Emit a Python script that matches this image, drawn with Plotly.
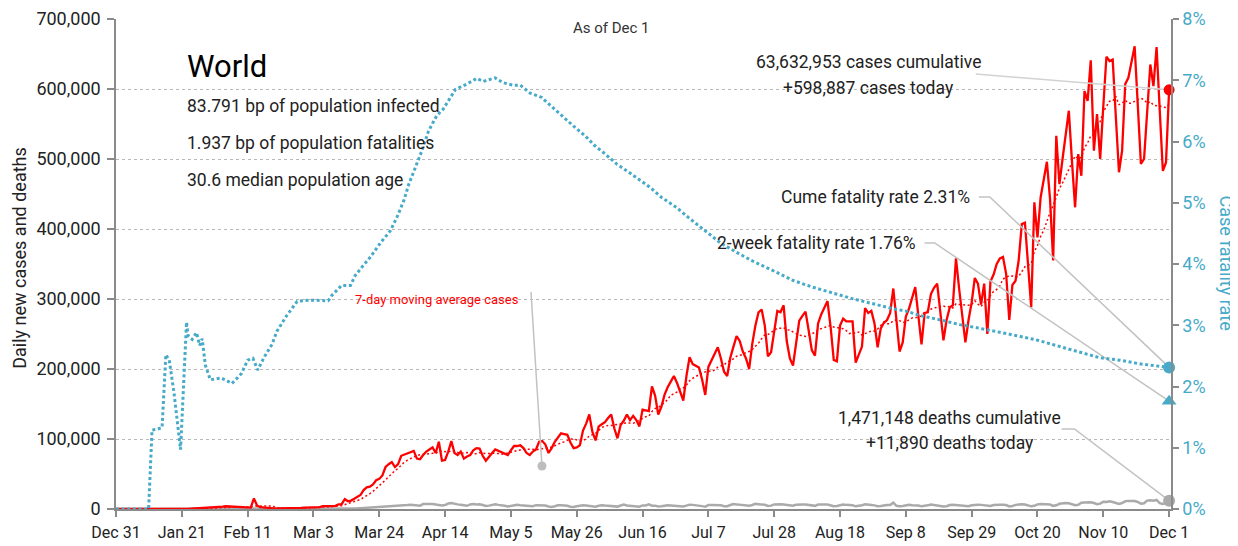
import pandas as pd
import plotly.graph_objects as go

START = pd.Timestamp("2019-12-31")

# ---------------- data ----------------
daily_cases = [
    27, 0, 0, 0, 17, 0, 15,
    0, 0, 0, 0, 0, 0, 1,
    0, 0, 0, 4, 17, 136, 150,
    150, 97, 265, 468, 703, 786, 1778,
    1482, 1755, 2010, 2127, 2603, 2836, 3239,
    3915, 3721, 3160, 3418, 2607, 3004, 2550,
    2064, 1907, 15152, 5090, 2658, 2109, 2052,
    1878, 507, 580, 1013, 1005, 630, 500,
    950, 1050, 1300, 1450, 1900, 2000, 1850,
    2400, 2300, 2700, 4000, 3900, 3600, 4000,
    4500, 6500, 7000, 14000, 11000, 12000, 14500,
    17000, 20000, 27000, 31000, 32000, 35000, 41000,
    43000, 48000, 60000, 64000, 67000, 60000, 64000,
    76000, 78000, 80000, 82000, 83000, 72000, 71000,
    77000, 82000, 85000, 88000, 80000, 96000, 69000,
    70000, 82000, 97000, 80000, 77000, 82000, 72000,
    75000, 77000, 84000, 87000, 86500, 76000, 69000,
    75000, 80000, 85000, 83000, 80000, 79000, 77000,
    84000, 90000, 90000, 91000, 87000, 80000, 77000,
    82000, 85000, 96000, 97000, 92000, 80000, 87000,
    96000, 102000, 108000, 107000, 106000, 95000, 87000,
    88000, 91000, 112000, 122000, 135000, 110000, 98000,
    118000, 121000, 124000, 130000, 135000, 115000, 101000,
    120000, 126000, 135000, 127000, 133000, 127000, 118000,
    142000, 141000, 140000, 175000, 162000, 135000, 146000,
    163000, 174000, 182000, 190000, 180000, 168000, 155000,
    190000, 217000, 207000, 204000, 202000, 185000, 163000,
    203000, 212000, 222000, 231000, 215000, 196000, 190000,
    216000, 232000, 247000, 240000, 225000, 215000, 200000,
    236000, 262000, 281000, 285000, 262000, 218000, 224000,
    255000, 283000, 281000, 291000, 240000, 215000, 205000,
    238000, 269000, 276000, 282000, 255000, 227000, 219000,
    265000, 278000, 288000, 297000, 260000, 213000, 211000,
    262000, 272000, 268000, 268000, 268000, 209000, 222000,
    232000, 287000, 280000, 283000, 265000, 231000, 258000,
    266000, 270000, 280000, 315000, 270000, 225000, 238000,
    275000, 286000, 302000, 317000, 276000, 235000, 280000,
    281000, 307000, 316000, 322000, 282000, 241000, 270000,
    288000, 291000, 358000, 315000, 278000, 238000, 270000,
    295000, 330000, 322000, 292000, 322000, 250000, 325000,
    335000, 350000, 358000, 360000, 336000, 270000, 320000,
    326000, 355000, 407000, 409000, 350000, 288000, 438000,
    388000, 445000, 470000, 496000, 443000, 355000, 533000,
    464000, 500000, 536000, 569000, 497000, 431000, 507000,
    476000, 597000, 583000, 641000, 512000, 564000, 500000,
    575000, 646000, 640000, 642000, 560000, 481000, 512000,
    607000, 616000, 640000, 661000, 577000, 493000, 500000,
    568000, 635000, 604000, 660000, 570000, 483000, 495000,
    598887,
]

daily_deaths = [
    0, 0, 0, 0, 0, 0, 0,
    0, 0, 0, 0, 1, 0, 0,
    0, 0, 1, 0, 0, 1, 0,
    3, 8, 8, 16, 15, 24, 26,
    26, 38, 43, 46, 45, 57, 64,
    66, 73, 73, 86, 89, 97, 108,
    97, 254, 121, 143, 142, 106, 98,
    136, 115, 118, 109, 97, 150, 71,
    52, 29, 44, 47, 35, 58, 67,
    72, 84, 81, 100, 105, 227, 208,
    273, 327, 361, 430, 450, 627, 770,
    940, 1080, 1350, 1650, 1700, 1900, 2200,
    2500, 2850, 3100, 3600, 3400, 3600, 3800,
    4400, 5000, 5600, 6200, 5900, 5000, 4800,
    7000, 6700, 7200, 7200, 6500, 5800, 5100,
    5600, 7800, 8400, 7200, 6600, 6200, 5000,
    4600, 6500, 7200, 6600, 6700, 5700, 4200,
    4800, 6200, 6800, 5900, 5500, 4500, 3600,
    4300, 5900, 6000, 5500, 5200, 4300, 3700,
    4100, 5500, 5400, 5300, 4900, 3500, 3000,
    3900, 5300, 5400, 5100, 4600, 3300, 2900,
    3800, 5000, 5200, 4900, 4400, 3100, 3300,
    4700, 5400, 4900, 4600, 4100, 3400, 3400,
    5000, 6400, 5000, 4600, 4300, 3700, 3300,
    5100, 5100, 6600, 4800, 4800, 3700, 3800,
    5100, 5400, 5000, 4600, 4600, 3500, 3500,
    4900, 6200, 5900, 5600, 5400, 4100, 3400,
    5600, 5800, 5900, 5700, 5200, 4000, 4100,
    5700, 7000, 6600, 6100, 5600, 4200, 4500,
    5800, 7300, 6900, 6700, 6000, 4300, 4800,
    6600, 7100, 6900, 6300, 5800, 4300, 4600,
    6200, 6800, 6600, 6400, 5700, 4200, 4500,
    6300, 6900, 6600, 6300, 5400, 4000, 4200,
    5700, 6400, 5900, 6000, 5200, 3800, 4200,
    5400, 6800, 5900, 5700, 5200, 4000, 4200,
    5300, 5800, 5800, 9000, 4600, 3800, 4200,
    5100, 6200, 5400, 5700, 5000, 3800, 4100,
    5200, 6500, 5700, 5600, 5100, 3600, 3900,
    5700, 6100, 5600, 5600, 4400, 3700, 4100,
    5400, 6300, 6200, 5900, 5300, 3900, 4200,
    5700, 6300, 6000, 5900, 5600, 3700, 4200,
    5900, 6500, 6700, 6400, 5600, 3800, 4600,
    6600, 7200, 7000, 7000, 6300, 4500, 5200,
    7400, 8400, 8400, 8300, 7000, 5300, 6100,
    8900, 9400, 9600, 9500, 8500, 6800, 7600,
    10300, 10000, 11000, 10000, 8800, 7200, 8600,
    11000, 11600, 11600, 11500, 10000, 7700, 8300,
    12000, 12600, 11700, 12900, 8300, 7300, 8400,
    11890,
]

# case fatality rate (cumulative), sampled from the dotted line: day offset, percent
cfr_day = [0, 10.4, 11.5, 13.0, 14.7, 15.9, 17.0, 18.5, 20.6, 22.5, 23.0, 24.3, 25.7,
           26.7, 27.5, 28.5, 30.1, 33.6, 37.0, 40.0, 42.0, 43.7, 45.2, 47.3, 49.8,
           51.3, 54.5, 57.8, 62.0, 67.7, 68.9, 70.5, 72.0, 74.8, 76.3, 78.0, 81.1,
           84.3, 87.5, 89.6, 91.8, 93.4, 95.5, 97.6, 99.7, 102.3, 104.4, 106.6,
           108.3, 112.0, 115.1, 117.2, 120.9, 123.5, 126.7, 129.0, 132.1, 135.8,
           139.5, 142.7, 146.0, 149.7, 152.8, 156.0, 159.8, 163.0, 166.7, 170.4,
           174.0, 178.9, 182.6, 187.3, 192.7, 198.0, 203.0, 209.7, 216.1, 222.4,
           228.8, 235.2, 241.6, 247.9, 252.2, 256.4, 262.8, 269.2, 275.6, 281.9,
           288.3, 293.7, 300.0, 306.5, 313.8, 320.2, 326.6, 333.0, 336.0]
cfr_pct = [0.00, 0.00, 1.29, 1.30, 1.33, 2.52, 2.43, 1.90, 0.97, 3.05, 2.83, 2.77, 2.88,
           2.67, 2.78, 2.35, 2.11, 2.14, 2.05, 2.21, 2.43, 2.46, 2.27, 2.48, 2.69,
           2.90, 3.16, 3.39, 3.41, 3.40, 3.49, 3.58, 3.65, 3.65, 3.81, 3.92, 4.11,
           4.34, 4.54, 4.76, 5.03, 5.30, 5.57, 5.85, 6.17, 6.42, 6.53, 6.72,
           6.85, 6.94, 7.03, 6.98, 7.04, 6.96, 6.92, 6.92, 6.79, 6.72,
           6.55, 6.39, 6.25, 6.09, 5.93, 5.80, 5.63, 5.52, 5.39, 5.25,
           5.09, 4.92, 4.76, 4.57, 4.35, 4.19, 4.05, 3.89, 3.73, 3.62,
           3.52, 3.43, 3.35, 3.27, 3.23, 3.16, 3.09, 3.01, 2.95, 2.89,
           2.82, 2.76, 2.67, 2.57, 2.47, 2.43, 2.37, 2.33, 2.31]

cum_cases = 63632953
cum_deaths = 1471148
two_week_cfr = 0.0176

x_tick_days = [0, 21, 42, 63, 84, 105, 126, 147, 168, 189, 210, 231, 252, 273, 294, 315, 336]
x_tick_labels = ["Dec 31", "Jan 21", "Feb 11", "Mar 3", "Mar 24", "Apr 14", "May 5",
                 "May 26", "Jun 16", "Jul 7", "Jul 28", "Aug 18", "Sep 8", "Sep 29",
                 "Oct 20", "Nov 10", "Dec 1"]
left_ticks = [0, 100000, 200000, 300000, 400000, 500000, 600000, 700000]
right_ticks = [0, 0.01, 0.02, 0.03, 0.04, 0.05, 0.06, 0.07, 0.08]

# ---------------- styling ----------------
FONT = "Roboto, Liberation Sans, sans-serif"
RED = "#ff0000"
TEAL = "#46aac8"
GRAY = "#aaaaaa"
AXIS = "#8a8a8a"
TXT = "#222222"
LEFT_MAX = 700000
RIGHT_MAX = 0.08


def d(day):
    return START + pd.Timedelta(days=day)


def pct_on_left(frac):
    return frac / RIGHT_MAX * LEFT_MAX


dates = pd.date_range(START, periods=len(daily_cases), freq="D")
ma7 = pd.Series(daily_cases).rolling(7, min_periods=1).mean()
cfr_dates = [d(v) for v in cfr_day]
cfr_frac = [v / 100 for v in cfr_pct]
cume_cfr = cum_deaths / cum_cases
last = dates[-1]

fig = go.Figure()
fig.add_trace(go.Scatter(x=dates, y=daily_deaths, mode="lines",
                         line=dict(color=GRAY, width=2.5), hoverinfo="skip"))
fig.add_trace(go.Scatter(x=dates, y=daily_cases, mode="lines",
                         line=dict(color=RED, width=2.3), hoverinfo="skip"))
fig.add_trace(go.Scatter(x=dates, y=ma7, mode="lines",
                         line=dict(color=RED, width=1.5, dash="2px,2.5px"), hoverinfo="skip"))
fig.add_trace(go.Scatter(x=cfr_dates, y=cfr_frac, mode="lines", yaxis="y2",
                         line=dict(color=TEAL, width=3, dash="3px,2.6px"), hoverinfo="skip"))

# callout connectors (label side -> data point), in data units of the left axis
ma_label_pos = (d(102.5), 298600)
ma_pointer = [(d(132.4), 310000), (d(135.9), 61400)]
connectors = [
    [(d(274.3), 621400), (last, daily_cases[-1])],
    [(d(275.3), 445700), (d(278.8), 445700), (last, pct_on_left(cume_cfr))],
    [(d(258.0), 380000), (d(261.2), 380000), (last, pct_on_left(two_week_cfr))],
    [(d(301.7), 114300), (d(305.8), 114300), (last, daily_deaths[-1])],
    ma_pointer,
]
for i, pts in enumerate(connectors):
    fig.add_trace(go.Scatter(x=[p[0] for p in pts], y=[p[1] for p in pts], mode="lines",
                             line=dict(color="#d2d2d2" if i == 0 else "#c2c2c2", width=1.5),
                             cliponaxis=False, hoverinfo="skip"))

# end-point markers
fig.add_trace(go.Scatter(x=[ma_pointer[1][0]], y=[ma_pointer[1][1]], mode="markers",
                         marker=dict(color="#bdbdbd", size=9), hoverinfo="skip"))
fig.add_trace(go.Scatter(x=[last], y=[daily_cases[-1]], mode="markers", cliponaxis=False,
                         marker=dict(color=RED, size=11), hoverinfo="skip"))
fig.add_trace(go.Scatter(x=[last], y=[daily_deaths[-1]], mode="markers", cliponaxis=False,
                         marker=dict(color=GRAY, size=12), hoverinfo="skip"))
fig.add_trace(go.Scatter(x=[last], y=[cume_cfr], mode="markers", yaxis="y2", cliponaxis=False,
                         marker=dict(color=TEAL, size=12), hoverinfo="skip"))
fig.add_trace(go.Scatter(x=[last], y=[two_week_cfr], mode="markers", yaxis="y2",
                         cliponaxis=False,
                         marker=dict(color=TEAL, size=13, symbol="triangle-up"),
                         hoverinfo="skip"))

BODY = 17.5


def note(text, x, y, size=BODY, color=TXT, **kw):
    kw.setdefault("yanchor", "middle")
    return dict(text=text, x=x, y=y, showarrow=False, font=dict(size=size, color=color), **kw)


annotations = [
    note("As of Dec 1", 0.470, 0.982, size=15, color="#333333", xref="paper", yref="paper",
         xanchor="center"),
    note("World", 0.0658, 0.904, size=31, color="#000000", xref="paper", yref="paper",
         xanchor="left"),
    note("83.791 bp of population infected", 0.0658, 0.822, xref="paper", yref="paper",
         xanchor="left"),
    note("1.937 bp of population fatalities", 0.0658, 0.747, xref="paper", yref="paper",
         xanchor="left"),
    note("30.6 median population age", 0.0658, 0.671, xref="paper", yref="paper",
         xanchor="left"),
    note(f"{cum_cases:,} cases cumulative", d(240.2), 638600),
    note(f"+{daily_cases[-1]:,} cases today", d(240.2), 601400),
    note(f"Cume fatality rate {cume_cfr*100:.2f}%", d(273.0), 445700, xanchor="right"),
    note(f"2-week fatality rate {two_week_cfr*100:.2f}%", d(255.8), 380000, xanchor="right"),
    note(f"{cum_deaths:,} deaths cumulative", d(266.0), 130000),
    note(f"+{daily_deaths[-1]:,} deaths today", d(266.0), 94300),
    note("7-day moving average cases", ma_label_pos[0], ma_label_pos[1], size=13, color=RED),
    note("Daily new cases and deaths", -0.0923, 0.512, size=18, xref="paper", yref="paper",
         xanchor="center", textangle=-90),
    note("Case fatality rate", 1.0535, 0.502, size=18, color=TEAL, xref="paper",
         yref="paper", xanchor="center", textangle=90),
]

# the page body adds an 8px offset, so margins are set relative to that
fig.update_layout(
    width=1238, height=546,
    margin=dict(l=107.5, r=74.5, t=11, b=45, autoexpand=False),
    paper_bgcolor="white", plot_bgcolor="white",
    showlegend=False,
    font=dict(family=FONT, color=TXT),
    xaxis=dict(range=[START, d(336.6)], tickvals=[d(v) for v in x_tick_days],
               ticktext=x_tick_labels, ticks="outside", ticklen=6, tickcolor=AXIS,
               tickwidth=1.5, showline=True, linecolor=AXIS, linewidth=1.5,
               showgrid=False, zeroline=False, automargin=False, ticklabelstandoff=2,
               tickfont=dict(size=16, color=TXT)),
    yaxis=dict(range=[0, LEFT_MAX], tickvals=left_ticks,
               ticktext=[f"{v:,}" for v in left_ticks], ticks="outside", ticklen=7,
               tickcolor=AXIS, tickwidth=1.5, showline=True, linecolor=AXIS,
               linewidth=1.5, showgrid=True, gridcolor="#b8b8b8", griddash="dot",
               gridwidth=1, zeroline=False, automargin=False, ticklabelstandoff=3,
               tickfont=dict(size=18, color=TXT)),
    yaxis2=dict(range=[0, RIGHT_MAX], overlaying="y", side="right",
                tickvals=right_ticks, ticktext=[f"{round(v*100)}%" for v in right_ticks],
                ticks="outside", ticklen=6, tickcolor=AXIS, tickwidth=1.5,
                showline=True, linecolor=AXIS, linewidth=1.5, showgrid=False,
                zeroline=False, automargin=False, tickfont=dict(size=18, color=TEAL)),
    annotations=annotations,
)

fig.write_html("out.html")
